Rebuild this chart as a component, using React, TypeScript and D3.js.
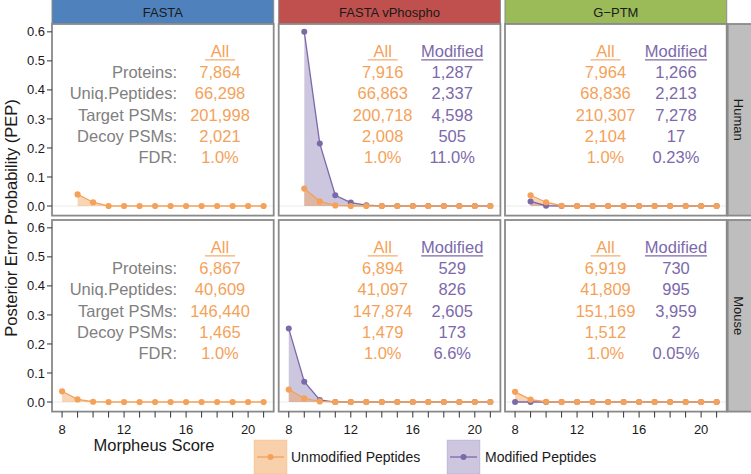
import React from "react";
import * as d3 from "d3";

const W = 751;
const H = 474;
const FONT = "'Liberation Sans', Arial, Helvetica, sans-serif";

const searches = ["FASTA", "FASTA vPhospho", "G\u2212PTM"];
const species = ["Human", "Mouse"];
const stripColors = ["#4F81BD", "#C0504D", "#9BBB59"];

const humanScores = [9, 10, 11, 12, 13, 14, 15, 16, 17, 18, 19, 20, 21];
const mouseScores = [8, 9, 10, 11, 12, 13, 14, 15, 16, 17, 18, 19, 20, 21];

// PEP values, Human (scores 9..21)
const humanFastaUnmod = [0.040, 0.013, 0, 0, 0, 0, 0, 0, 0, 0, 0, 0, 0];
const humanPhosphoUnmod = [0.060, 0.016, 0.002, 0, 0, 0, 0, 0, 0, 0, 0, 0, 0];
const humanPhosphoMod = [0.600, 0.215, 0.037, 0.012, 0.003, 0, 0, 0, 0, 0, 0, 0, 0];
const humanGptmUnmod = [0.037, 0.013, 0.001, 0, 0, 0, 0, 0, 0, 0, 0, 0, 0];
const humanGptmMod = [0.016, 0.001, 0, 0, 0, 0, 0, 0, 0, 0, 0, 0, 0];

// PEP values, Mouse (scores 8..21)
const mouseFastaUnmod = [0.037, 0.009, 0.001, 0, 0, 0, 0, 0, 0, 0, 0, 0, 0, 0];
const mousePhosphoUnmod = [0.043, 0.0125, 0.002, 0, 0, 0, 0, 0, 0, 0, 0, 0, 0, 0];
const mousePhosphoMod = [0.253, 0.070, 0.007, 0, 0, 0, 0, 0, 0, 0, 0, 0, 0, 0];
const mouseGptmUnmod = [0.035, 0.008, 0.001, 0, 0, 0, 0, 0, 0, 0, 0, 0, 0, 0];
const mouseGptmMod = [0, 0, 0, 0, 0, 0, 0, 0, 0, 0, 0, 0, 0, 0];

const statLabels = ["Proteins:", "Uniq.Peptides:", "Target PSMs:", "Decoy PSMs:", "FDR:"];

const humanFastaAll = ["7,864", "66,298", "201,998", "2,021", "1.0%"];
const humanPhosphoAll = ["7,916", "66,863", "200,718", "2,008", "1.0%"];
const humanPhosphoModStats = ["1,287", "2,337", "4,598", "505", "11.0%"];
const humanGptmAll = ["7,964", "68,836", "210,307", "2,104", "1.0%"];
const humanGptmModStats = ["1,266", "2,213", "7,278", "17", "0.23%"];

const mouseFastaAll = ["6,867", "40,609", "146,440", "1,465", "1.0%"];
const mousePhosphoAll = ["6,894", "41,097", "147,874", "1,479", "1.0%"];
const mousePhosphoModStats = ["529", "826", "2,605", "173", "6.6%"];
const mouseGptmAll = ["6,919", "41,809", "151,169", "1,512", "1.0%"];
const mouseGptmModStats = ["730", "995", "3,959", "2", "0.05%"];

const yTicks = [0, 0.1, 0.2, 0.3, 0.4, 0.5, 0.6];
const xTicks = [8, 9, 10, 11, 12, 13, 14, 15, 16, 17, 18, 19, 20, 21];
const xLabels = [8, 12, 16, 20];

const ORANGE = "#F4A259";
const PURPLE = "#7C69AA";
const GRAY_TEXT = "#808080";
const BORDER = "#8A8A8A";

type Panel = {
  scores: number[];
  unmod: number[];
  mod: number[] | null;
  all: string[];
  modStats: string[] | null;
};

const panels: Panel[][] = [
  [
    { scores: humanScores, unmod: humanFastaUnmod, mod: null, all: humanFastaAll, modStats: null },
    { scores: humanScores, unmod: humanPhosphoUnmod, mod: humanPhosphoMod, all: humanPhosphoAll, modStats: humanPhosphoModStats },
    { scores: humanScores, unmod: humanGptmUnmod, mod: humanGptmMod, all: humanGptmAll, modStats: humanGptmModStats },
  ],
  [
    { scores: mouseScores, unmod: mouseFastaUnmod, mod: null, all: mouseFastaAll, modStats: null },
    { scores: mouseScores, unmod: mousePhosphoUnmod, mod: mousePhosphoMod, all: mousePhosphoAll, modStats: mousePhosphoModStats },
    { scores: mouseScores, unmod: mouseGptmUnmod, mod: mouseGptmMod, all: mouseGptmAll, modStats: mouseGptmModStats },
  ],
];

const colX = [52, 278.7, 505];
const panelW = 221.7;
const rowY = [24, 220];
const panelH = 191.6;
const stripH = 24;

// text column centres relative to panel left
const allCx = [168, 104, 100.5];
const modCx = [0, 173.5, 171];
const labelRight = 125;
const textRowsY = [0.462, 0.388, 0.315, 0.241, 0.169];
const headerY = 0.533;

function PanelView({ p, col, row }: { p: Panel; col: number; row: number }) {
  const x0 = colX[col];
  const y0 = rowY[row];
  const x = d3.scaleLinear().domain([7.35, 21.65]).range([x0, x0 + panelW]);
  const y = d3.scaleLinear().domain([-0.033, 0.627]).range([y0 + panelH, y0]);
  const pts = (vals: number[]) => p.scores.map((s, i) => [s, vals[i]] as [number, number]);
  const area = d3
    .area<[number, number]>()
    .x((d) => x(d[0]))
    .y0(y(0))
    .y1((d) => y(d[1]));
  const line = d3
    .line<[number, number]>()
    .x((d) => x(d[0]))
    .y((d) => y(d[1]));
  const uPts = pts(p.unmod);
  const mPts = p.mod ? pts(p.mod) : null;
  const fs = 16.5;
  const base = (v: number) => y(v) + 6;
  return (
    <g>
      <rect x={x0} y={y0} width={panelW} height={panelH} fill="#fff" />
      <line x1={x0} x2={x0 + panelW} y1={y(0)} y2={y(0)} stroke="#EBEBEB" strokeWidth={1} />
      {/* stats text */}
      {col === 0 &&
        statLabels.map((t, i) => (
          <text key={"l" + i} x={x0 + labelRight} y={base(textRowsY[i])} textAnchor="end" fontSize={fs} fill={GRAY_TEXT}>
            {t}
          </text>
        ))}
      <text x={x0 + allCx[col]} y={base(headerY)} textAnchor="middle" fontSize={fs} fill={ORANGE}>
        All
      </text>
      <line
        x1={x0 + allCx[col] - 15}
        x2={x0 + allCx[col] + 15}
        y1={base(headerY) + 2.6}
        y2={base(headerY) + 2.6}
        stroke={ORANGE}
        strokeWidth={1.1}
      />
      {p.all.map((t, i) => (
        <text key={"a" + i} x={x0 + allCx[col]} y={base(textRowsY[i])} textAnchor="middle" fontSize={fs} fill={ORANGE}>
          {t}
        </text>
      ))}
      {p.modStats && (
        <g>
          <text x={x0 + modCx[col]} y={base(headerY)} textAnchor="middle" fontSize={fs} fill={PURPLE}>
            Modified
          </text>
          <line
            x1={x0 + modCx[col] - 31}
            x2={x0 + modCx[col] + 31}
            y1={base(headerY) + 2.6}
            y2={base(headerY) + 2.6}
            stroke={PURPLE}
            strokeWidth={1.1}
          />
          {p.modStats.map((t, i) => (
            <text key={"m" + i} x={x0 + modCx[col]} y={base(textRowsY[i])} textAnchor="middle" fontSize={fs} fill={PURPLE}>
              {t}
            </text>
          ))}
        </g>
      )}
      {/* areas */}
      {mPts && <path d={area(mPts) || ""} fill={PURPLE} fillOpacity={0.38} />}
      <path d={area(uPts) || ""} fill={ORANGE} fillOpacity={0.45} />
      {mPts && <path d={line(mPts) || ""} fill="none" stroke={PURPLE} strokeWidth={1.3} />}
      {mPts && mPts.map((d, i) => <circle key={"mp" + i} cx={x(d[0])} cy={y(d[1])} r={3} fill={PURPLE} />)}
      <path d={line(uPts) || ""} fill="none" stroke={ORANGE} strokeWidth={1.3} />
      {uPts.map((d, i) => (
        <circle key={"up" + i} cx={x(d[0])} cy={y(d[1])} r={3.1} fill={ORANGE} />
      ))}
      <rect x={x0} y={y0} width={panelW} height={panelH} fill="none" stroke={BORDER} strokeWidth={1.8} />
      {/* y axis */}
      {col === 0 &&
        yTicks.map((t) => (
          <g key={"yt" + t}>
            <line x1={x0 - 5} x2={x0} y1={y(t)} y2={y(t)} stroke="#333" strokeWidth={1} />
            <text x={x0 - 7} y={y(t) + 4.6} textAnchor="end" fontSize={13} fill="#1a1a1a">
              {d3.format(".1f")(t)}
            </text>
          </g>
        ))}
      {/* x axis */}
      {row === 1 &&
        xTicks.map((t) => (
          <line key={"xt" + t} x1={x(t)} x2={x(t)} y1={y0 + panelH} y2={y0 + panelH + 6} stroke="#333" strokeWidth={1} />
        ))}
      {row === 1 &&
        xLabels.map((t) => (
          <text key={"xl" + t} x={x(t)} y={433.5} textAnchor="middle" fontSize={13} fill="#1a1a1a">
            {t}
          </text>
        ))}
    </g>
  );
}

export default function App() {
  return (
    <svg
      width={W}
      height={H}
      viewBox={`0 0 ${W} ${H}`}
      style={{ position: "absolute", left: 0, top: 0, fontFamily: FONT, background: "#fff" }}
    >
      <rect x={0} y={0} width={W} height={H} fill="#fff" />
      {/* top strips */}
      {searches.map((s, i) => (
        <g key={s}>
          <rect x={colX[i]} y={-1} width={panelW} height={stripH + 1} fill={stripColors[i]} stroke={BORDER} strokeWidth={1} />
          <text x={colX[i] + panelW / 2} y={17} textAnchor="middle" fontSize={13} fill="#1a1a1a">
            {s}
          </text>
        </g>
      ))}
      {/* right strips */}
      {species.map((s, i) => (
        <g key={s}>
          <rect x={colX[2] + panelW + 1} y={rowY[i]} width={30} height={panelH} fill="#BEBEBE" stroke={BORDER} strokeWidth={1.8} />
          <text
            transform={`translate(${colX[2] + panelW + 7.5},${rowY[i] + panelH / 2}) rotate(90)`}
            textAnchor="middle"
            fontSize={13}
            fill="#1a1a1a"
          >
            {s}
          </text>
        </g>
      ))}
      {panels.map((r, ri) => r.map((p, ci) => <PanelView key={ri + "-" + ci} p={p} col={ci} row={ri} />))}
      {/* axis titles */}
      <text transform={`translate(17,218) rotate(-90)`} textAnchor="middle" fontSize={16.5} fill="#1a1a1a">
        Posterior Error Probability (PEP)
      </text>
      <text x={154} y={451} textAnchor="middle" fontSize={16.5} fill="#1a1a1a">
        Morpheus Score
      </text>
      {/* legend */}
      <g>
        <rect x={254} y={440} width={33} height={34} fill={ORANGE} fillOpacity={0.5} stroke={ORANGE} strokeOpacity={0.3} />
        <line x1={257} x2={284} y1={457} y2={457} stroke={ORANGE} strokeWidth={1.3} />
        <circle cx={270.5} cy={457} r={3} fill={ORANGE} />
        <text x={291} y={462} fontSize={14} fill="#1a1a1a">
          Unmodified Peptides
        </text>
        <rect x={447} y={440} width={33} height={34} fill={PURPLE} fillOpacity={0.38} stroke={PURPLE} strokeOpacity={0.2} />
        <line x1={450} x2={477} y1={457} y2={457} stroke={PURPLE} strokeWidth={1.3} />
        <circle cx={463.5} cy={457} r={3} fill={PURPLE} />
        <text x={485} y={462} fontSize={14} fill="#1a1a1a">
          Modified Peptides
        </text>
      </g>
    </svg>
  );
}
